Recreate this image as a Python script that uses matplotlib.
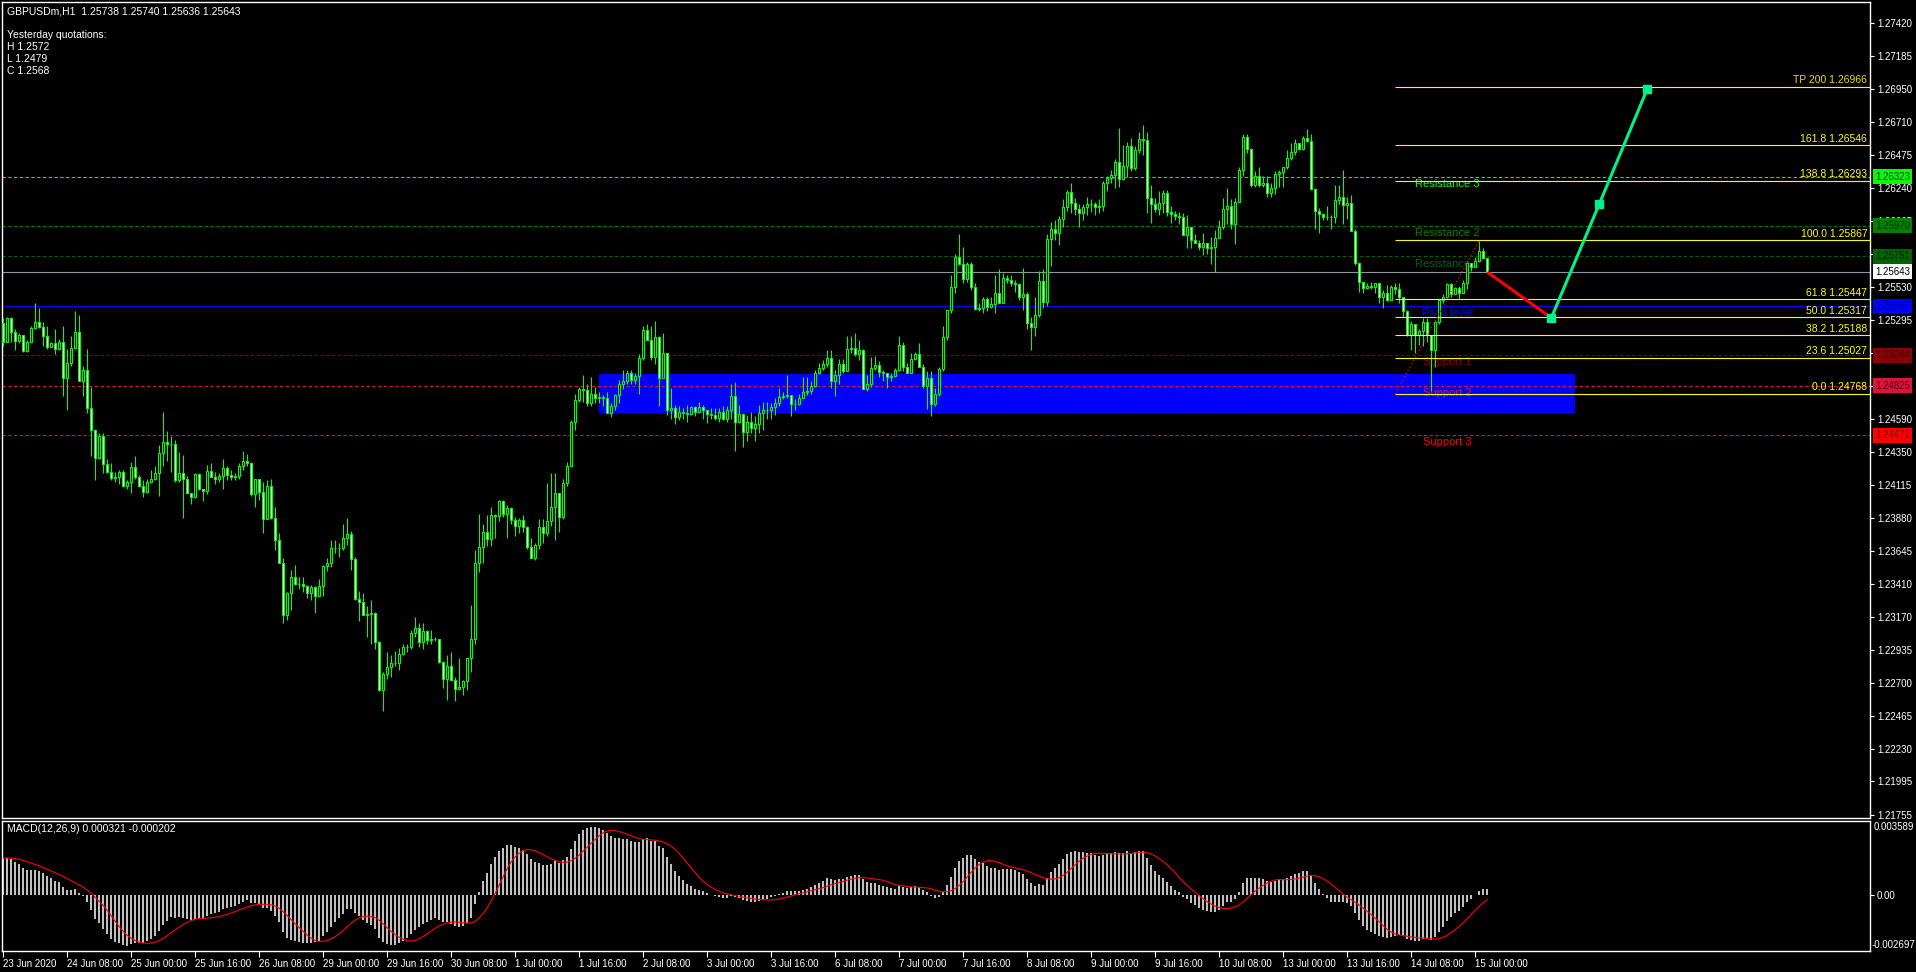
import numpy as np
import pandas as pd
import matplotlib
matplotlib.use('Agg')
import matplotlib.pyplot as plt
import matplotlib.transforms as mtransforms
from matplotlib.patches import Rectangle

plt.rcParams['font.family'] = ['Liberation Sans', 'DejaVu Sans']

# GBPUSDm H1, bars from 23 Jun 2020 16:00
first_open = 1.25278
closes = [
    1.25142, 1.25309, 1.25213, 1.25149, 1.25190, 1.25077, 1.25137, 1.25237, 1.25285, 1.25249,
    1.25185, 1.25106, 1.25130, 1.25087, 1.25137, 1.24880, 1.24987, 1.25099, 1.25213, 1.24863,
    1.24939, 1.24665, 1.24510, 1.24307, 1.24467, 1.24267, 1.24212, 1.24164, 1.24170, 1.24207,
    1.24112, 1.24135, 1.24243, 1.24171, 1.24112, 1.24069, 1.24140, 1.24157, 1.24200, 1.24343,
    1.24426, 1.24410, 1.24407, 1.24152, 1.24205, 1.24157, 1.24057, 1.24033, 1.24193, 1.24088,
    1.24076, 1.24219, 1.24176, 1.24157, 1.24183, 1.24236, 1.24188, 1.24176, 1.24178, 1.24255,
    1.24286, 1.24276, 1.24052, 1.24159, 1.24064, 1.23873, 1.24112, 1.23878, 1.23723, 1.23561,
    1.23186, 1.23346, 1.23460, 1.23408, 1.23405, 1.23394, 1.23341, 1.23384, 1.23325, 1.23396,
    1.23539, 1.23556, 1.23663, 1.23665, 1.23663, 1.23735, 1.23763, 1.23584, 1.23301, 1.23282,
    1.23186, 1.23191, 1.23198, 1.22991, 1.22650, 1.22764, 1.22812, 1.22840, 1.22842, 1.22905,
    1.22960, 1.22958, 1.23055, 1.23091, 1.22991, 1.23072, 1.23007, 1.23015, 1.23014, 1.22852,
    1.22726, 1.22821, 1.22721, 1.22654, 1.22673, 1.22714, 1.22876, 1.23012, 1.23556, 1.23670,
    1.23778, 1.23728, 1.23902, 1.23895, 1.24002,
    1.23907, 1.23950, 1.23866, 1.23826, 1.23866, 1.23814, 1.23675, 1.23592, 1.23687, 1.23814,
    1.23775, 1.23859, 1.23957, 1.24057, 1.23890, 1.24129, 1.24255, 1.24570, 1.24725, 1.24801,
    1.24796, 1.24701, 1.24768, 1.24737, 1.24744, 1.24741, 1.24634, 1.24682, 1.24760, 1.24839,
    1.24861, 1.24916, 1.24868, 1.24896, 1.25023, 1.25226, 1.25154, 1.25035, 1.25173, 1.24880,
    1.25059, 1.24653, 1.24665, 1.24601, 1.24641, 1.24629, 1.24625, 1.24672, 1.24641, 1.24677,
    1.24653, 1.24622, 1.24617, 1.24594, 1.24641, 1.24586, 1.24653, 1.24753, 1.24570, 1.24622,
    1.24493, 1.24570, 1.24522, 1.24551, 1.24629, 1.24653, 1.24650, 1.24677, 1.24701, 1.24749,
    1.24753, 1.24760, 1.24694, 1.24696, 1.24737, 1.24784, 1.24789, 1.24827, 1.24916, 1.24956,
    1.24980, 1.25023, 1.24863, 1.24904, 1.24980, 1.24932, 1.25090, 1.25094, 1.25051, 1.25082,
    1.24801, 1.24837, 1.24956, 1.24973, 1.24927, 1.24916, 1.24892, 1.24896, 1.24939, 1.25118,
    1.24963, 1.24920, 1.25018, 1.25051, 1.24963, 1.24825, 1.24880, 1.24694, 1.24765, 1.24944,
    1.25173, 1.25369, 1.25531, 1.25745, 1.25695, 1.25588, 1.25695, 1.25531, 1.25373, 1.25381,
    1.25445, 1.25393, 1.25409, 1.25488, 1.25421, 1.25595, 1.25583,
    1.25559, 1.25554, 1.25464, 1.25481, 1.25273, 1.25249, 1.25333, 1.25576, 1.25428, 1.25874,
    1.25946, 1.25917, 1.26020, 1.26108, 1.26210, 1.26132, 1.26089, 1.26065, 1.26103, 1.26124,
    1.26126, 1.26103, 1.26113, 1.26275, 1.26311, 1.26334, 1.26425, 1.26303, 1.26399, 1.26544,
    1.26382, 1.26513, 1.26590, 1.26585, 1.26167, 1.26127, 1.26089, 1.26132, 1.26203, 1.26067,
    1.26053, 1.26043, 1.26031, 1.25905, 1.25965, 1.25869, 1.25845, 1.25822, 1.25850, 1.25810,
    1.25822, 1.25881, 1.25960, 1.26091, 1.26115, 1.25984, 1.26144, 1.26370, 1.26609, 1.26518,
    1.26263, 1.26327, 1.26263, 1.26275, 1.26208, 1.26239, 1.26342, 1.26358, 1.26389, 1.26454,
    1.26501, 1.26561, 1.26518, 1.26597, 1.26580, 1.26232, 1.26077, 1.26053, 1.26036, 1.26031,
    1.26033, 1.26155, 1.26175, 1.26120, 1.26136, 1.25934, 1.25702, 1.25566, 1.25524, 1.25543,
    1.25531, 1.25559, 1.25464, 1.25493, 1.25440, 1.25535, 1.25516, 1.25459, 1.25364, 1.25190,
    1.25268, 1.25190, 1.25218, 1.25285, 1.25190, 1.25082, 1.25285, 1.25440, 1.25464, 1.25552,
    1.25483, 1.25524, 1.25488, 1.25564, 1.25702, 1.25679, 1.25721, 1.25793, 1.25738, 1.25643,
]
highs = [
    1.2531, 1.2532, 1.2532, 1.2523, 1.2520, 1.2517, 1.2515, 1.2525, 1.2542, 1.2538,
    1.2528, 1.2525, 1.2514, 1.2523, 1.2516, 1.2525, 1.2509, 1.2518, 1.2536, 1.2533,
    1.2497, 1.2509, 1.2482, 1.2452, 1.2449, 1.2449, 1.2430, 1.2427, 1.2421, 1.2422,
    1.2422, 1.2415, 1.2428, 1.2432, 1.2419, 1.2415, 1.2416, 1.2422, 1.2425, 1.2440,
    1.2464, 1.2450, 1.2447, 1.2444, 1.2435, 1.2433, 1.2418, 1.2404, 1.2420, 1.2420,
    1.2409, 1.2426, 1.2427, 1.2421, 1.2420, 1.2430, 1.2425, 1.2422, 1.2420, 1.2427,
    1.2436, 1.2434, 1.2428, 1.2416, 1.2416, 1.2414, 1.2415, 1.2416, 1.2396, 1.2377,
    1.2359, 1.2335, 1.2351, 1.2354, 1.2346, 1.2346, 1.2340, 1.2340, 1.2339, 1.2344,
    1.2354, 1.2359, 1.2372, 1.2372, 1.2370, 1.2384, 1.2388, 1.2379, 1.2360, 1.2336,
    1.2334, 1.2325, 1.2329, 1.2321, 1.2300, 1.2278, 1.2292, 1.2290, 1.2293, 1.2295,
    1.2298, 1.2298, 1.2308, 1.2317, 1.2313, 1.2313, 1.2308, 1.2308, 1.2303, 1.2301,
    1.2286, 1.2290, 1.2292, 1.2274, 1.2288, 1.2272, 1.2288, 1.2326, 1.2365, 1.2391,
    1.2384, 1.2390, 1.2396, 1.2391, 1.2401,
    1.2401, 1.2397, 1.2396, 1.2389, 1.2388, 1.2390, 1.2382, 1.2374, 1.2370, 1.2387,
    1.2387, 1.2413, 1.2420, 1.2420, 1.2405, 1.2416, 1.2428, 1.2458, 1.2477, 1.2482,
    1.2490, 1.2484, 1.2489, 1.2482, 1.2478, 1.2476, 1.2478, 1.2470, 1.2477, 1.2487,
    1.2494, 1.2494, 1.2494, 1.2492, 1.2505, 1.2525, 1.2527, 1.2525, 1.2529, 1.2518,
    1.2520, 1.2506, 1.2481, 1.2469, 1.2468, 1.2467, 1.2469, 1.2468, 1.2468, 1.2471,
    1.2469, 1.2465, 1.2467, 1.2467, 1.2467, 1.2468, 1.2468, 1.2484, 1.2485, 1.2469,
    1.2463, 1.2462, 1.2464, 1.2461, 1.2469, 1.2471, 1.2471, 1.2470, 1.2474, 1.2481,
    1.2478, 1.2490, 1.2473, 1.2473, 1.2477, 1.2489, 1.2489, 1.2486, 1.2494, 1.2499,
    1.2501, 1.2508, 1.2508, 1.2494, 1.2502, 1.2502, 1.2518, 1.2518, 1.2520, 1.2515,
    1.2509, 1.2490, 1.2503, 1.2504, 1.2500, 1.2494, 1.2492, 1.2492, 1.2495, 1.2518,
    1.2514, 1.2499, 1.2506, 1.2507, 1.2513, 1.2498, 1.2493, 1.2493, 1.2481, 1.2496,
    1.2525, 1.2530, 1.2562, 1.2577, 1.2591, 1.2582, 1.2571, 1.2571, 1.2556, 1.2542,
    1.2546, 1.2546, 1.2546, 1.2562, 1.2566, 1.2563, 1.2562,
    1.2562, 1.2558, 1.2556, 1.2567, 1.2550, 1.2532, 1.2546, 1.2565, 1.2566, 1.2591,
    1.2600, 1.2601, 1.2604, 1.2616, 1.2623, 1.2628, 1.2617, 1.2613, 1.2613, 1.2618,
    1.2616, 1.2614, 1.2616, 1.2629, 1.2633, 1.2637, 1.2645, 1.2667, 1.2655, 1.2657,
    1.2660, 1.2654, 1.2664, 1.2669, 1.2664, 1.2626, 1.2617, 1.2622, 1.2623, 1.2623,
    1.2611, 1.2608, 1.2607, 1.2606, 1.2605, 1.2595, 1.2591, 1.2587, 1.2592, 1.2583,
    1.2589, 1.2594, 1.2601, 1.2617, 1.2624, 1.2616, 1.2617, 1.2639, 1.2663, 1.2663,
    1.2653, 1.2636, 1.2639, 1.2633, 1.2633, 1.2628, 1.2636, 1.2637, 1.2639, 1.2651,
    1.2656, 1.2659, 1.2656, 1.2661, 1.2666, 1.2663, 1.2624, 1.2610, 1.2606, 1.2611,
    1.2605, 1.2626, 1.2626, 1.2637, 1.2618, 1.2619, 1.2595, 1.2571, 1.2557, 1.2556,
    1.2557, 1.2556, 1.2554, 1.2551, 1.2555, 1.2555, 1.2556, 1.2556, 1.2546, 1.2537,
    1.2529, 1.2527, 1.2523, 1.2531, 1.2531, 1.2514, 1.2530, 1.2545, 1.2548, 1.2556,
    1.2556, 1.2553, 1.2554, 1.2558, 1.2571, 1.2570, 1.2575, 1.2586, 1.2581, 1.25740,
]
lows = [
    1.2511, 1.2514, 1.2514, 1.2508, 1.2513, 1.2507, 1.2507, 1.2515, 1.2523, 1.2524,
    1.2511, 1.2509, 1.2511, 1.2505, 1.2508, 1.2475, 1.2465, 1.2497, 1.2509, 1.2486,
    1.2475, 1.2463, 1.2432, 1.2415, 1.2430, 1.2420, 1.2420, 1.2415, 1.2414, 1.2412,
    1.2410, 1.2409, 1.2406, 1.2416, 1.2410, 1.2403, 1.2406, 1.2413, 1.2415, 1.2404,
    1.2425, 1.2429, 1.2421, 1.2414, 1.2414, 1.2388, 1.2405, 1.2398, 1.2402, 1.2408,
    1.2400, 1.2405, 1.2417, 1.2412, 1.2414, 1.2409, 1.2415, 1.2415, 1.2415, 1.2416,
    1.2422, 1.2425, 1.2404, 1.2396, 1.2401, 1.2377, 1.2387, 1.2387, 1.2365, 1.2356,
    1.2313, 1.2315, 1.2322, 1.2340, 1.2337, 1.2335, 1.2331, 1.2329, 1.2320, 1.2333,
    1.2332, 1.2350, 1.2353, 1.2363, 1.2360, 1.2365, 1.2369, 1.2351, 1.2329, 1.2314,
    1.2319, 1.2303, 1.2298, 1.2294, 1.2264, 1.2250, 1.2273, 1.2274, 1.2282, 1.2279,
    1.2290, 1.2292, 1.2294, 1.2303, 1.2296, 1.2294, 1.2298, 1.2298, 1.2300, 1.2284,
    1.2266, 1.2258, 1.2271, 1.2257, 1.2265, 1.2261, 1.2265, 1.2278, 1.2298, 1.2349,
    1.2356, 1.2368, 1.2368, 1.2374, 1.2386,
    1.2389, 1.2374, 1.2384, 1.2375, 1.2377, 1.2378, 1.2366, 1.2359, 1.2358, 1.2366,
    1.2370, 1.2375, 1.2382, 1.2372, 1.2378, 1.2387, 1.2411, 1.2425, 1.2451, 1.2471,
    1.2471, 1.2468, 1.2468, 1.2470, 1.2470, 1.2468, 1.2463, 1.2460, 1.2465, 1.2470,
    1.2480, 1.2484, 1.2484, 1.2484, 1.2477, 1.2501, 1.2515, 1.2501, 1.2498, 1.2468,
    1.2504, 1.2462, 1.2459, 1.2455, 1.2458, 1.2459, 1.2457, 1.2462, 1.2461, 1.2463,
    1.2459, 1.2456, 1.2459, 1.2458, 1.2457, 1.2458, 1.2457, 1.2459, 1.2436, 1.2456,
    1.2439, 1.2443, 1.2449, 1.2443, 1.2449, 1.2451, 1.2459, 1.2459, 1.2462, 1.2468,
    1.2473, 1.2474, 1.2461, 1.2465, 1.2469, 1.2475, 1.2476, 1.2477, 1.2482, 1.2491,
    1.2494, 1.2496, 1.2481, 1.2475, 1.2484, 1.2492, 1.2493, 1.2506, 1.2504, 1.2501,
    1.2480, 1.2479, 1.2482, 1.2494, 1.2489, 1.2486, 1.2481, 1.2486, 1.2489, 1.2493,
    1.2493, 1.2492, 1.2492, 1.2501, 1.2496, 1.2481, 1.2466, 1.2461, 1.2468, 1.2475,
    1.2493, 1.2515, 1.2535, 1.2549, 1.2569, 1.2556, 1.2557, 1.2551, 1.2537, 1.2536,
    1.2535, 1.2536, 1.2538, 1.2535, 1.2542, 1.2542, 1.2556,
    1.2554, 1.2550, 1.2544, 1.2537, 1.2523, 1.2508, 1.2518, 1.2532, 1.2538, 1.2540,
    1.2568, 1.2587, 1.2583, 1.2596, 1.2608, 1.2606, 1.2605, 1.2596, 1.2601, 1.2605,
    1.2607, 1.2605, 1.2606, 1.2608, 1.2622, 1.2628, 1.2624, 1.2625, 1.2630, 1.2632,
    1.2636, 1.2637, 1.2649, 1.2648, 1.2606, 1.2599, 1.2607, 1.2605, 1.2606, 1.2604,
    1.2599, 1.2601, 1.2598, 1.2591, 1.2581, 1.2581, 1.2585, 1.2580, 1.2576, 1.2577,
    1.2570, 1.2564, 1.2589, 1.2595, 1.2598, 1.2595, 1.2584, 1.2614, 1.2633, 1.2649,
    1.2625, 1.2625, 1.2625, 1.2625, 1.2618, 1.2618, 1.2620, 1.2625, 1.2625, 1.2638,
    1.2644, 1.2648, 1.2651, 1.2651, 1.2657, 1.2623, 1.2595, 1.2592, 1.2601, 1.2601,
    1.2595, 1.2599, 1.2613, 1.2598, 1.2602, 1.2593, 1.2569, 1.2550, 1.2549, 1.2552,
    1.2552, 1.2549, 1.2542, 1.2538, 1.2543, 1.2546, 1.2548, 1.2542, 1.2532, 1.2518,
    1.2508, 1.2506, 1.2512, 1.2511, 1.2514, 1.2479, 1.2496, 1.2527, 1.2542, 1.2545,
    1.2546, 1.2548, 1.2545, 1.2551, 1.2552, 1.2565, 1.2569, 1.2571, 1.2573, 1.25636,
]

price_ticks = [1.27420, 1.27185, 1.26950, 1.26710, 1.26475, 1.26240, 1.26005, 1.25770,
               1.25530, 1.25295, 1.25060, 1.24825, 1.24590, 1.24350, 1.24115, 1.23880,
               1.23645, 1.23410, 1.23170, 1.22935, 1.22700, 1.22465, 1.22230, 1.21995, 1.21755]

current_price = 1.25643
levels = [1.26323, 1.25970, 1.25751, 1.25397, 1.25044, 1.24825, 1.24471]
level_names = ['Resistance 3', 'Resistance 2', 'Resistance 1', 'Pivot level',
               'Support 1', 'Support 2', 'Support 3']
level_colors = ['#00ff00', '#008000', '#006400', '#0000ff', '#8b0000', '#dc143c', '#ff0000']
level_text_colors = ['#002a00', '#002a00', '#001e00', '#000090', '#3a0000', '#5a0012', '#600000']

fib_levels = [1.26966, 1.26546, 1.26293, 1.25867, 1.25447, 1.25317, 1.25188, 1.25027, 1.24768]
fib_names = ['TP 200', '161.8', '138.8', '100.0', '61.8', '50.0', '38.2', '23.6', '0.0']
fib_start = 348
fib_trend_bars = [348, 369]
fib_trend_prices = [1.24768, 1.25867]

zone_bars = [149, 393]
zone_prices = [1.24631, 1.24911]

path_bars = [371, 387, 399, 411]
path_prices = [1.25640, 1.25311, 1.26127, 1.26950]

ema12_seed, ema26_seed, signal_seed = 1.2511, 1.2492, 0.0018

# ---- derived ----
n = len(closes)
c = np.array(closes)
o = np.concatenate([[first_open], c[:-1]])
h = np.maximum(np.array(highs), np.maximum(o, c))
l = np.minimum(np.array(lows), np.minimum(o, c))
x = np.arange(n)

e12, e26 = ema12_seed, ema26_seed
macd = []
for p in c:
    e12 += (p - e12) * 2 / 13
    e26 += (p - e26) * 2 / 27
    macd.append(e12 - e26)
macd = np.array(macd)
signal = np.convolve(np.concatenate([np.full(8, signal_seed), macd]), np.ones(9) / 9, mode='valid')

times = pd.date_range('2020-06-23 16:00', periods=24 * 40, freq='h')
times = times[times.dayofweek < 5][:n]
tick_idx = list(range(0, n, 16))
tick_labels = []
for k in tick_idx:
    t = times[k]
    if k == 0:
        tick_labels.append(f"{t.day} {t.strftime('%b %Y')}")
    else:
        tick_labels.append(f"{t.day} {t.strftime('%b %H:%M')}")

# ---- figure ----
W, H = 1916, 972
fig = plt.figure(figsize=(W / 100, H / 100), dpi=100, facecolor='black')


def px_rect(x0, y0, x1, y1):
    return [x0 / W, 1 - y1 / H, (x1 - x0) / W, (y1 - y0) / H]


ax = fig.add_axes(px_rect(2, 2, 1870, 818))
axm = fig.add_axes(px_rect(2, 821, 1870, 951))
xmin, xmax = (2 - 3.3) / 4, (1870 - 3.3) / 4
for a in (ax, axm):
    a.set_facecolor('black')
    for s in a.spines.values():
        s.set_color('white')
        s.set_linewidth(1.0)
    a.set_xlim(xmin, xmax)

ax.set_ylim(1.21733, 1.27572)
ax.tick_params(axis='x', bottom=False, labelbottom=False)
ax.yaxis.tick_right()
ax.set_yticks(price_ticks)
ax.set_yticklabels([f'{v:.5f}' for v in price_ticks])
ax.tick_params(axis='y', colors='white', length=3, width=0.8, pad=2, labelsize=7)

# demand zone
ax.add_patch(Rectangle((zone_bars[0], zone_prices[0]), zone_bars[1] - zone_bars[0],
                       zone_prices[1] - zone_prices[0], color='#0000ff', lw=0, zorder=1))

# pivot levels
for lvl, name, col in zip(levels, level_names, level_colors):
    ls = '-' if name == 'Pivot level' else (0, (3, 2.2))
    ax.axhline(lvl, color=col, lw=0.8, ls=ls, zorder=2)
    ax.annotate(name, (361, lvl), xytext=(0, -1.5), textcoords='offset points',
                ha='center', va='top', color=col, fontsize=8, zorder=2.5)
ax.axhline(current_price, color='#8c96a0', lw=0.8, zorder=2)

# candles
ax.vlines(x, l, h, color='#00ff00', lw=0.75, zorder=3)
up = c >= o
ax.bar(x, np.maximum(np.abs(c - o), 1e-6), bottom=np.minimum(o, c), width=0.5,
       color=np.where(up, 'black', 'white'), edgecolor='#00ff00', linewidth=0.75, zorder=4)

# fibonacci
ax.hlines(fib_levels, fib_start, xmax, color='yellow', lw=0.8, zorder=5)
for lvl, name in zip(fib_levels, fib_names):
    ax.annotate(f'{name} {lvl:.5f}', (1, lvl), xycoords=('axes fraction', 'data'),
                xytext=(-2, 1), textcoords='offset points', ha='right', va='bottom',
                color='#f0dc00' if name == 'TP 200' else 'yellow', fontsize=7.5, zorder=5)
ax.plot(fib_trend_bars, fib_trend_prices, color='red', lw=0.9, ls=(0, (1, 2)), zorder=5)

# projected path
ax.plot(path_bars[:2], path_prices[:2], color='red', lw=2.2, zorder=6, solid_capstyle='butt')
ax.plot(path_bars[1:], path_prices[1:], color='#00f08c', lw=2.2, zorder=6)
ax.plot(path_bars[1:], path_prices[1:], ls='none', marker='s', ms=5.5, color='#00f08c', zorder=7)

# price boxes on the right axis
box_tr = mtransforms.blended_transform_factory(ax.transAxes, ax.transData) + \
    mtransforms.ScaledTranslation(5 / 100, 0, fig.dpi_scale_trans)
box_vals = levels + [current_price]
box_bg = level_colors + ['white']
box_fg = level_text_colors + ['black']
for v, bg, fg in zip(box_vals, box_bg, box_fg):
    ax.text(1, v, f'{v:.5f}', transform=box_tr, ha='left', va='center', fontsize=7,
            color=fg, clip_on=False, zorder=10,
            bbox=dict(boxstyle='square,pad=0.25', fc=bg, ec='none'))

# MACD panel
axm.set_ylim(-0.002697, 0.003589)
axm.bar(x, macd, width=0.45, color='#c0c0c0', lw=0, zorder=2)
axm.plot(x, signal, color='red', lw=0.8, zorder=3)
axm.yaxis.tick_right()
axm.set_yticks([0.0])
axm.set_yticklabels(['0.00'])
axm.tick_params(axis='y', colors='white', length=3, width=0.8, pad=2, labelsize=7)
axm.text(1.0, 1.0, '0.003589', transform=axm.transAxes + mtransforms.ScaledTranslation(4 / 100, -1 / 100, fig.dpi_scale_trans),
         ha='left', va='top', color='white', fontsize=7, clip_on=False)
axm.text(1.0, 0.0, '-0.002697', transform=axm.transAxes + mtransforms.ScaledTranslation(2 / 100, 1 / 100, fig.dpi_scale_trans),
         ha='left', va='bottom', color='white', fontsize=7, clip_on=False)
axm.set_xticks(tick_idx)
axm.set_xticklabels(tick_labels)
axm.tick_params(axis='x', colors='white', length=4, width=0.8, pad=1.5, labelsize=7)
for lab in axm.get_xticklabels():
    lab.set_horizontalalignment('left')

# header texts
fig.text(7 / W, 1 - 11 / H, 'GBPUSDm,H1  1.25738 1.25740 1.25636 1.25643', color='white',
         fontsize=7.5, va='center')
for txt, yy in [('Yesterday quotations:', 35), ('H 1.2572', 47.5), ('L 1.2479', 59.5), ('C 1.2568', 71.5)]:
    fig.text(7 / W, 1 - yy / H, txt, color='white', fontsize=7.5, va='center')
fig.text(7 / W, 1 - 829 / H, 'MACD(12,26,9) 0.000321 -0.000202', color='white', fontsize=7.5, va='center')

fig.savefig('out.png', dpi=100, facecolor='black')
